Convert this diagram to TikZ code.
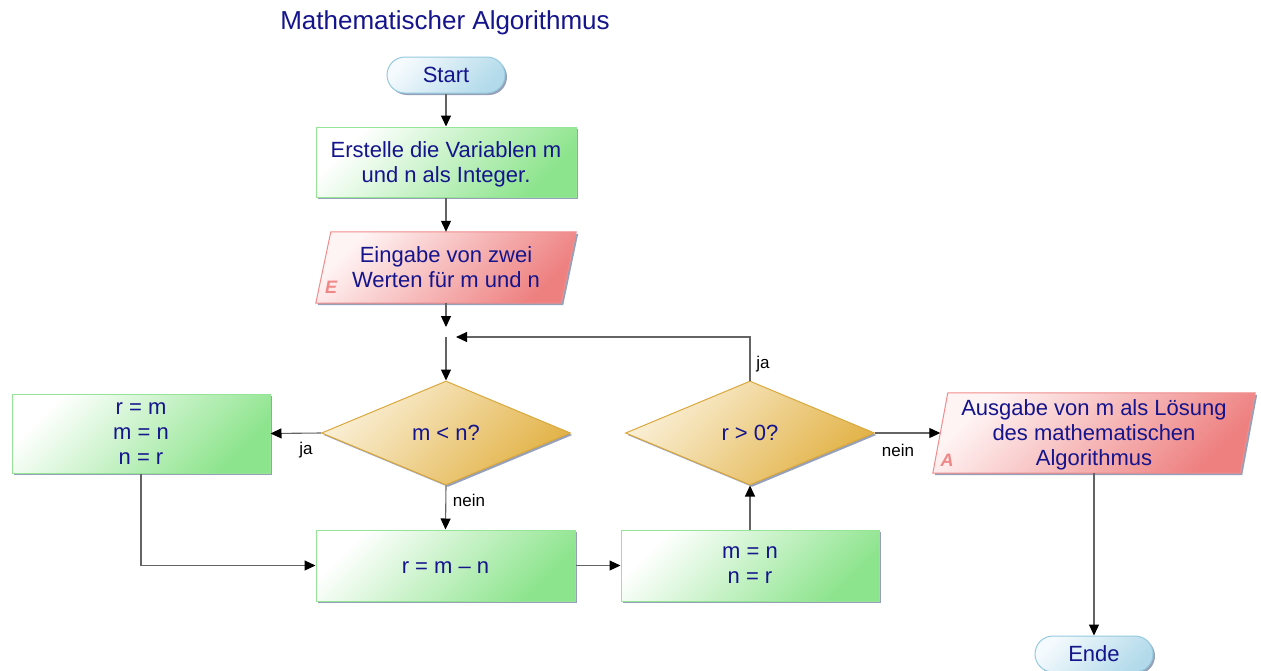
\documentclass[tikz,border=0pt]{standalone}
\usepackage{fontspec}
\setmainfont{Liberation Sans}
\usetikzlibrary{arrows.meta,shapes.geometric,shadows,backgrounds,calc}
\definecolor{navy}{RGB}{20,20,140}
\definecolor{shadowc}{RGB}{150,160,185}
\definecolor{greenline}{RGB}{150,228,150}
\definecolor{greenfill}{RGB}{140,228,140}
\definecolor{goldline}{RGB}{218,168,60}
\definecolor{goldlight}{RGB}{250,240,215}
\definecolor{golddark}{RGB}{226,178,70}
\definecolor{redline}{RGB}{240,140,140}
\definecolor{redlight}{RGB}{255,244,244}
\definecolor{reddark}{RGB}{238,128,128}
\definecolor{letterc}{RGB}{240,135,135}
\definecolor{blueline}{RGB}{150,202,222}
\definecolor{bluelight}{RGB}{244,250,253}
\definecolor{bluedark}{RGB}{178,218,234}
\definecolor{linec}{RGB}{100,100,100}
\newcommand\drawpgram[2]{%
  \fill[shadowc] ($(#1.north west)+(#2+2,2)$) -- ($(#1.north east)+(#2+2,2)$) -- ($(#1.south east)+(-#2+2,2)$) -- ($(#1.south west)+(-#2+2,2)$) -- cycle;
  \path[draw=redline, line width=1pt, grad={redlight}{reddark}]
    ($(#1.north west)+(#2,0)$) -- ($(#1.north east)+(#2,0)$) -- ($(#1.south east)+(-#2,0)$) -- ($(#1.south west)+(-#2,0)$) -- cycle;}
\begin{document}
\begin{tikzpicture}[x=1pt,y=-1pt,
  grad/.style 2 args={top color=#1, bottom color=#2, shading angle=45},
  txt/.style={text=navy, font=\fontsize{22}{25}\selectfont, align=center, inner sep=0pt,
    execute at begin node={\rule{0pt}{15.75pt}}, text depth=0pt},
  shad/.style={drop shadow={shadow xshift=2pt, shadow yshift=-2pt, fill=shadowc, opacity=1}},
  gbox/.style={txt, rectangle, draw=greenline, line width=1pt, grad={white}{greenfill}, shad},
  dia/.style={txt, diamond, draw=goldline, line width=1pt, grad={goldlight}{golddark}, shad, minimum width=249pt, minimum height=104pt},
  term/.style={txt, rectangle, rounded corners=18pt, draw=blueline, line width=1pt, grad={bluelight}{bluedark}, shad, minimum width=118pt, minimum height=36pt},
  iobox/.style={txt, rectangle},
  letter/.style={text=letterc, font=\fontsize{18}{20}\selectfont\bfseries\itshape, inner sep=0pt},
  arr/.style={draw=linec, line width=1.1pt, -{Triangle[length=11pt,width=10pt,color=black]}},
  lab/.style={font=\fontsize{17}{20}\selectfont, text=black, inner sep=0pt}
]
\useasboundingbox (0,0) rectangle (1261,670);

\node[text=navy, font=\fontsize{26}{30}\selectfont, inner sep=0pt] (title) at (445,23) {Mathematischer Algorithmus};

\node[term] (start) at (446,75) {Start};
\node[gbox, minimum width=260pt, minimum height=70pt] (b1) at (446,162) {Erstelle die Variablen m\\und n als Integer.};
\node[iobox, minimum width=245pt, minimum height=71pt] (e) at (446,267.5) {Eingabe von zwei\\Werten für m und n};
\node[letter] (eE) at (331,287) {E};
\coordinate (j) at (446,337);
\node[dia] (d1) at (446,433) {m < n?};
\node[gbox, minimum width=258pt, minimum height=79pt] (l) at (141,433.5) {r = m\\m = n\\n = r};
\node[gbox, minimum width=259pt, minimum height=71pt] (r1) at (445.5,565.5) {r = m – n};
\node[gbox, minimum width=258pt, minimum height=71pt] (r2) at (750,565.5) {m = n\\n = r};
\node[dia] (d2) at (750,433) {r > 0?};
\node[iobox, minimum width=307pt, minimum height=80pt] (a) at (1094,433) {Ausgabe von m als Lösung\\des mathematischen\\Algorithmus};
\node[letter] (aA) at (947,460) {A};
\node[term] (ende) at (1094,654) {Ende};

\begin{scope}[on background layer]
  \fill[white] (0,0) rectangle (1261,670);
  \drawpgram{e}{7.5}
  \drawpgram{a}{7.5}
\end{scope}

\draw[arr] (start) -- (b1);
\draw[arr] (b1) -- (e);
\draw[arr, shorten >=10pt] (e.south) -- (j);
\draw[arr] (j) -- (d1.north);
\draw[arr] (d1.west) -- (l.east);
\draw[arr] (d1.south) -- (r1.north);
\draw[arr] (l.south) |- (r1.west);
\draw[arr] (r1.east) -- (r2.west);
\draw[arr] (r2.north) -- (d2.south);
\draw[arr, shorten >=10pt] (d2.north) |- (j);
\draw[arr] (d2.east) -- (a.west);
\draw[arr] (a.south) -- (ende.north);

\node[lab] (ja1) at (306,450) {ja};
\node[lab] (nein1) at (469,500) {nein};
\node[lab] (ja2) at (763,364) {ja};
\node[lab] (nein2) at (898,450) {nein};
\end{tikzpicture}
\end{document}
